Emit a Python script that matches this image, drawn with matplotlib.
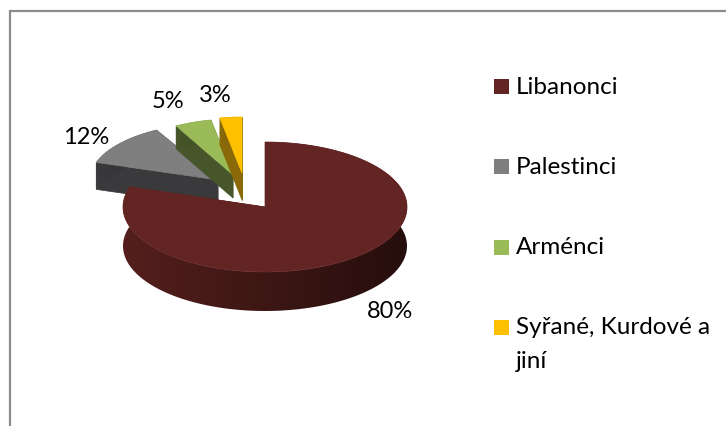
import numpy as np
import matplotlib
matplotlib.use("Agg")
import matplotlib.pyplot as plt
from matplotlib.patches import Polygon, Rectangle
from matplotlib.colors import LinearSegmentedColormap

categories = ["Libanonci", "Palestinci", "Arménci", "Syřané, Kurdové a\njiní"]
values = [80, 12, 5, 3]
value_labels = ["80%", "12%", "5%", "3%"]
top_colors = ["#632523", "#7f7f7f", "#9bbb59", "#ffc000"]
side_left = ["#541f1d", "#3a3a3c", "#46552a", "#8a6a08"]
side_right = ["#260e0c", "#2e2e30", "#3f4d22", "#7a5c06"]

# layout (pixels)
apex = [(265, 207), (218, 180), (233, 175), (242, 173)]
radius = [(142, 65), (128, 57), (118, 56), (118, 56)]
depth = [39, 27, 23, 27]
label_pos = [(390, 311), (86, 137), (168, 101), (215, 96)]
legend_y = [86.5, 166.5, 247.5, 327.5]
line_step = 33

plt.rcParams["font.family"] = ["Lato", "DejaVu Sans"]
fig = plt.figure(figsize=(7.26, 4.26), dpi=100, facecolor="white")
ax = fig.add_axes([0, 0, 1, 1])
ax.set_xlim(0, 726)
ax.set_ylim(426, 0)
ax.axis("off")

ax.plot([9.5, 9.5, 726], [426, 11, 11], color="#8c8c8c", lw=1.6, zorder=0,
        solid_joinstyle="miter")

fracs = np.array(values) / sum(values) * 2 * np.pi
starts = np.concatenate([[0], np.cumsum(fracs)[:-1]])
order = [1, 2, 3, 0]
for z, i in enumerate(order):
    cx, cy = apex[i]
    rx, ry = radius[i]
    d = depth[i]
    th = np.linspace(starts[i], starts[i] + fracs[i], 240)
    x = cx + rx * np.sin(th)
    y = cy - ry * np.cos(th)
    base = 2 + z * 3
    # cut faces
    for k in (0, -1):
        ax.add_patch(Polygon([(cx, cy), (x[k], y[k]), (x[k], y[k] + d), (cx, cy + d)],
                             closed=True, fc=side_left[i], ec=side_left[i], lw=0.5, zorder=base))
    # curved outer wall: horizontal gradient clipped to the wall shape
    wall = Polygon(np.column_stack([np.r_[x, x[::-1]], np.r_[y, y[::-1] + d]]), closed=True,
                   fc="none", ec="none", transform=ax.transData)
    ax.add_patch(wall)
    cmap = LinearSegmentedColormap.from_list("w", [side_left[i], side_right[i]])
    im = ax.imshow(np.linspace(0, 1, 256)[None, :], cmap=cmap, aspect="auto",
                   extent=(x.min(), x.max(), y.max() + d, y.min()),
                   zorder=base + 1, interpolation="bilinear")
    im.set_clip_path(wall)
    ax.add_patch(Polygon(np.column_stack([np.r_[cx, x], np.r_[cy, y]]), closed=True,
                         fc=top_colors[i], ec=top_colors[i], lw=0.5, zorder=base + 2))
ax.set_xlim(0, 726)
ax.set_ylim(426, 0)

for (lx, ly), s in zip(label_pos, value_labels):
    ax.text(lx, ly, s, fontsize=17, color="black", ha="center", va="center", zorder=30)

for name, c, ly in zip(categories, top_colors, legend_y):
    ax.add_patch(Rectangle((494, ly - 7.5), 15, 15, fc=c, ec="none", zorder=30))
    for n, line in enumerate(name.split("\n")):
        ax.text(516, ly + 7 + n * line_step, line, fontsize=17.5, color="black",
                ha="left", va="baseline", zorder=30)

fig.savefig("out.png", dpi=100, facecolor="white")
